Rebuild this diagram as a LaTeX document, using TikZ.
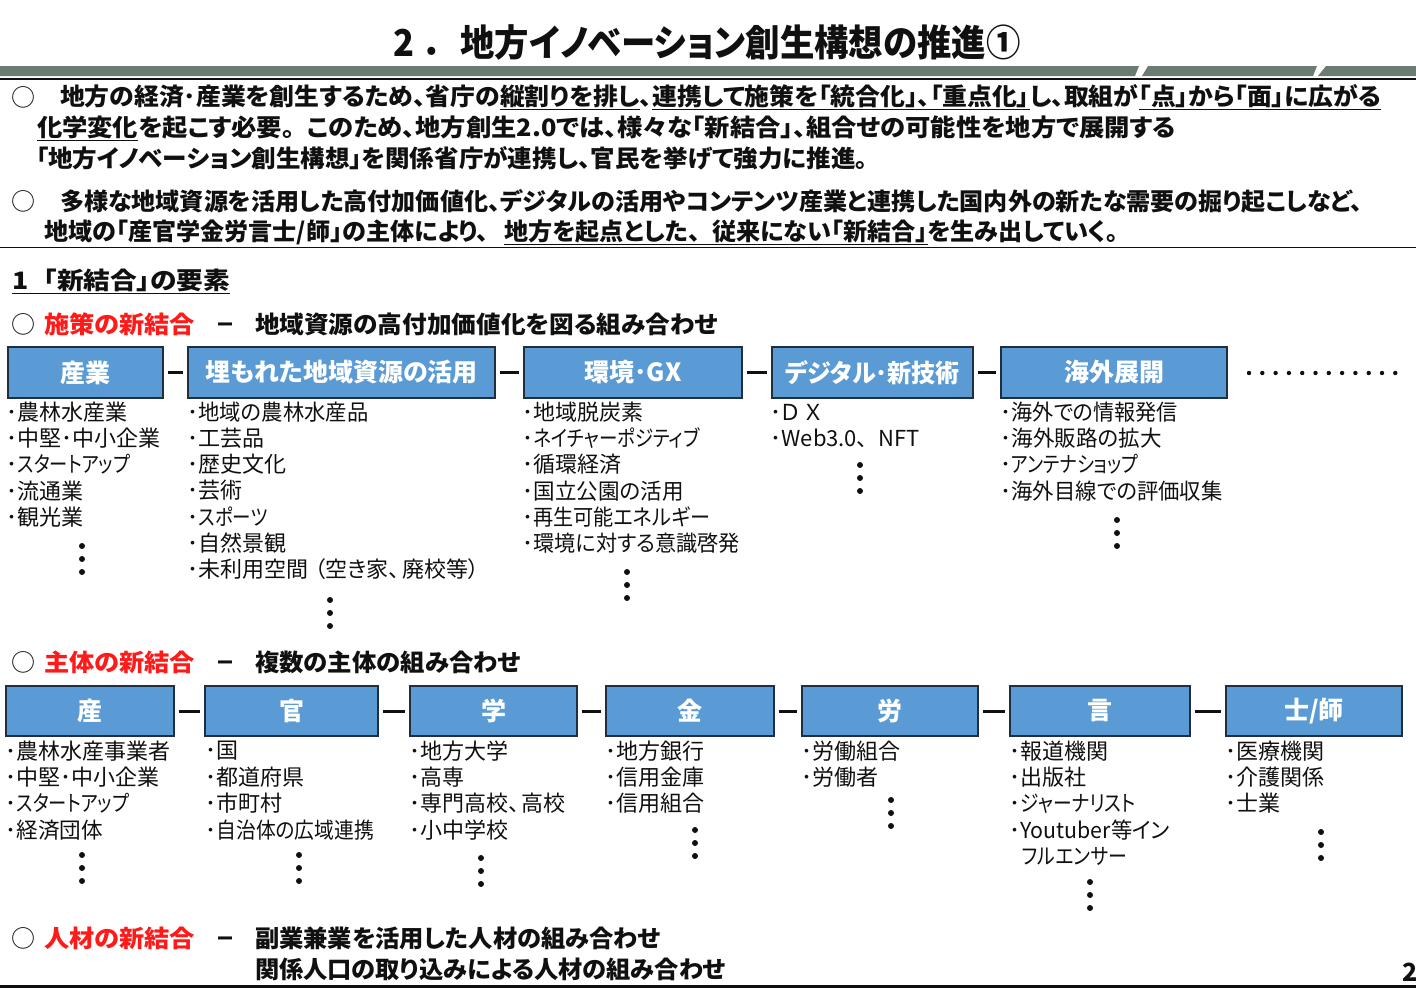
\documentclass[tikz,border=0pt]{standalone}
\usepackage{fontspec}
\usepackage{graphicx}
\setmainfont{Noto Sans CJK JP}[RawFeature={+palt}]
\definecolor{band}{HTML}{6B7D72}
\definecolor{boxblue}{HTML}{5B9BD5}
\definecolor{boxedge}{HTML}{1F2F3F}
\definecolor{ink}{HTML}{101010}
\definecolor{redhead}{HTML}{FF1A1A}
\newcommand\ul[1]{\underline{#1}}
\newcommand\fz[1]{\fontsize{#1}{#1}\selectfont}
\newcommand\sq[2]{\scalebox{#1}[1]{#2}}
% fitted bold line: name, x0, x1, y, size, text
\newcommand\fitline[6]{\pgfmathsetmacro\fitw{#3-#2}%
  \node[txt,font=\fz{#5}\bfseries] (#1) at (#2,#4) {\resizebox{\fitw pt}{\height}{#6}};}
\tikzset{
  x=1pt,y=-1pt,
  txt/.style={anchor=west,inner sep=0pt,outer sep=0pt,text=ink},
  listitem/.style={txt,font=\fz{22}},
  hbox/.style={draw=boxedge,line width=1.6pt,fill=boxblue,text=white,font=\fz{25}\bfseries,inner sep=0pt,anchor=north west},
  dashlink/.style={draw=ink,line width=3pt,shorten <=4pt,shorten >=4pt},
  ring/.style={inner sep=0pt,text=ink,font=\fz{24}},
  vd/.style={fill=ink}
}
\newcommand\hb[6]{\node[hbox,minimum width=#3-#2-1.6,minimum height=#5-#4-1.6] (#1) at (#2,#4) {\raisebox{-1pt}{#6}};}
\newcommand\tridots[2]{\fill[vd] (#1,#2) circle (3) (#1,#2+13) circle (3) (#1,#2+26) circle (3);}
\newcommand\lst[4]{\foreach \t [count=\i] in {#4}{\node[listitem] (#1\i) at ({#2-1.5},{#3+26.25*(\i-1)}) {\t};}}
\begin{document}
\begin{tikzpicture}
\useasboundingbox (0,0) rectangle (1416,988);
\clip (0,0) rectangle (1416,988);
\node[font=\fz{37}\bfseries,text=ink,inner sep=0pt] (title) at (707,42) {\resizebox{627pt}{\height}{2\kern13pt．\kern18pt 地方イノベーション創生構想の推進①}};
\fill[band] (0,66) -- (1139,66) -- (1135,76) -- (0,76) -- cycle;
\fill[band] (1148,66) -- (1317,66) -- (1313,76) -- (1142,76) -- cycle;
\fill[band] (1326,66) -- (1416,66) -- (1416,76) -- (1318,76) -- cycle;
\draw[ink,line width=1.6pt] (0,79) -- (1416,79);
\node[ring] (r1) at (23,97) {○};
\fitline{l1}{60}{1381}{97}{24}{地方の経済･産業を創生するため、省庁の\ul{縦割りを排し}、\ul{連携して施策を「統合化」、「重点化」}し、取組が\ul{「点」から「面」に広がる}}
\fitline{l2}{37}{1176}{128}{24}{\ul{化学変化}を起こす必要。\kern12pt このため、地方創生2.0では、様々な「新結合」、組合せの可能性を地方で展開する}
\fitline{l3}{36}{868}{158}{24}{「地方イノベーション創生構想」を関係省庁が連携し、官民を挙げて強力に推進。}
\node[ring] (r2) at (23,201) {○};
\fitline{l4}{60}{1363}{201}{24}{多様な地域資源を活用した高付加価値化、デジタルの活用やコンテンツ産業と連携した国内外の新たな需要の掘り起こしなど、}
\fitline{l5}{44}{1118}{232}{24}{地域の「産官学金労言士/師」の主体により、\kern15pt\ul{地方を起点とした、\kern12pt 従来にない「新結合」}を生み出していく。}
\draw[ink,line width=0.9pt] (0,247.5) -- (1416,247.5);
\fitline{s1}{12}{230}{281}{24}{\ul{1\kern14pt「新結合」の要素}}
\node[ring] (r3) at (23,324) {○};
\fitline{h1}{44}{195}{324}{24}{\textcolor{redhead}{施策の新結合}}
\fitline{m1}{217}{233}{328}{24}{−}
\fitline{d1}{255}{718}{324}{24}{地域資源の高付加価値化を図る組み合わせ}
\hb{a1}{7}{164}{346}{399}{産業}
\hb{a2}{187}{496}{346}{399}{埋もれた地域資源の活用}
\hb{a3}{523}{743}{346}{399}{環境･GX}
\hb{a4}{771}{974}{346}{399}{\sq{0.96}{デジタル･新技術}}
\hb{a5}{1000}{1228}{346}{399}{海外展開}
\draw[dashlink] (a1) -- (a2);
\draw[dashlink] (a2) -- (a3);
\draw[dashlink] (a3) -- (a4);
\draw[dashlink] (a4) -- (a5);
\foreach \k in {0,...,11}{\fill[vd] (1249+\k*13.3,373) circle (2.2);}
\lst{p}{8}{412}{･農林水産業,･中堅･中小企業,･\sq{.83}{スタートアップ},･流通業,･観光業}
\lst{q}{189}{412}{･\sq{.97}{地域の農林水産品},･工芸品,･歴史文化,･芸術,･\sq{.84}{スポーツ},･自然景観,･未利用空間\kern6pt（空き家、\kern3pt廃校等）}
\lst{u}{524}{412}{･地域脱炭素,･\sq{.84}{ネイチャーポジティブ},･循環経済,･\sq{.98}{国立公園の活用},･\sq{.915}{再生可能エネルギー},･\sq{.96}{環境に対する意識啓発}}
\lst{v}{772}{412}{･Ｄ Ｘ,･Web3.0、\kern10pt NFT}
\lst{w}{1002}{412}{･\sq{.96}{海外での情報発信},･\sq{.98}{海外販路の拡大},･\sq{.82}{アンテナショップ},･\sq{.97}{海外目線での評価収集}}
\tridots{82}{546}\tridots{330}{600}\tridots{627}{572}\tridots{860}{465}\tridots{1117}{520}
\node[ring] (r4) at (23,662) {○};
\fitline{h2}{44}{195}{662}{24}{\textcolor{redhead}{主体の新結合}}
\fitline{m2}{217}{233}{666}{24}{−}
\fitline{d2}{255}{521}{662}{24}{複数の主体の組み合わせ}
\hb{b1}{5}{175}{685}{737}{産}
\hb{b2}{204}{379}{685}{737}{官}
\hb{b3}{409}{578}{685}{737}{学}
\hb{b4}{605}{775}{685}{737}{金}
\hb{b5}{801}{979}{685}{737}{労}
\hb{b6}{1009}{1191}{685}{737}{言}
\hb{b7}{1225}{1403}{685}{737}{士/師}
\draw[dashlink] (b1) -- (b2);
\draw[dashlink] (b2) -- (b3);
\draw[dashlink] (b3) -- (b4);
\draw[dashlink] (b4) -- (b5);
\draw[dashlink] (b5) -- (b6);
\draw[dashlink] (b6) -- (b7);
\lst{ba}{7}{751}{･農林水産事業者,･中堅･中小企業,･\sq{.83}{スタートアップ},･\sq{.98}{経済団体}}
\lst{bb}{207}{751}{･国,･都道府県,･市町村,･\sq{.90}{自治体の広域連携}}
\lst{bc}{411}{751}{･地方大学,･高専,･専門高校、\kern2pt 高校,･小中学校}
\lst{bd}{607}{751}{･地方銀行,･信用金庫,･信用組合}
\lst{be}{803}{751}{･労働組合,･労働者}
\lst{bf}{1011}{751}{･報道機関,･出版社,･\sq{.85}{ジャーナリスト},･\sq{.97}{Youtuber等イン}}
\node[listitem] (bf5) at (1022,856) {\sq{.86}{フルエンサー}};
\lst{bg}{1227}{751}{･医療機関,･介護関係,･士業}
\tridots{82}{855}\tridots{299}{855}\tridots{481}{858}\tridots{695}{830}\tridots{891}{800}\tridots{1090}{882}\tridots{1321}{832}
\node[ring] (r5) at (23,938) {○};
\fitline{h3}{44}{195}{938}{24}{\textcolor{redhead}{人材の新結合}}
\fitline{m3}{217}{233}{942}{24}{−}
\fitline{d3}{255}{661}{938}{24}{副業兼業を活用した人材の組み合わせ}
\fitline{d4}{255}{726}{969}{24}{関係人口の取り込みによる人材の組み合わせ}
\node[txt,font=\fz{25}\bfseries] (pg) at (1402,972) {2};
\fill[ink] (0,985) rectangle (1416,988);
\end{tikzpicture}
\end{document}
